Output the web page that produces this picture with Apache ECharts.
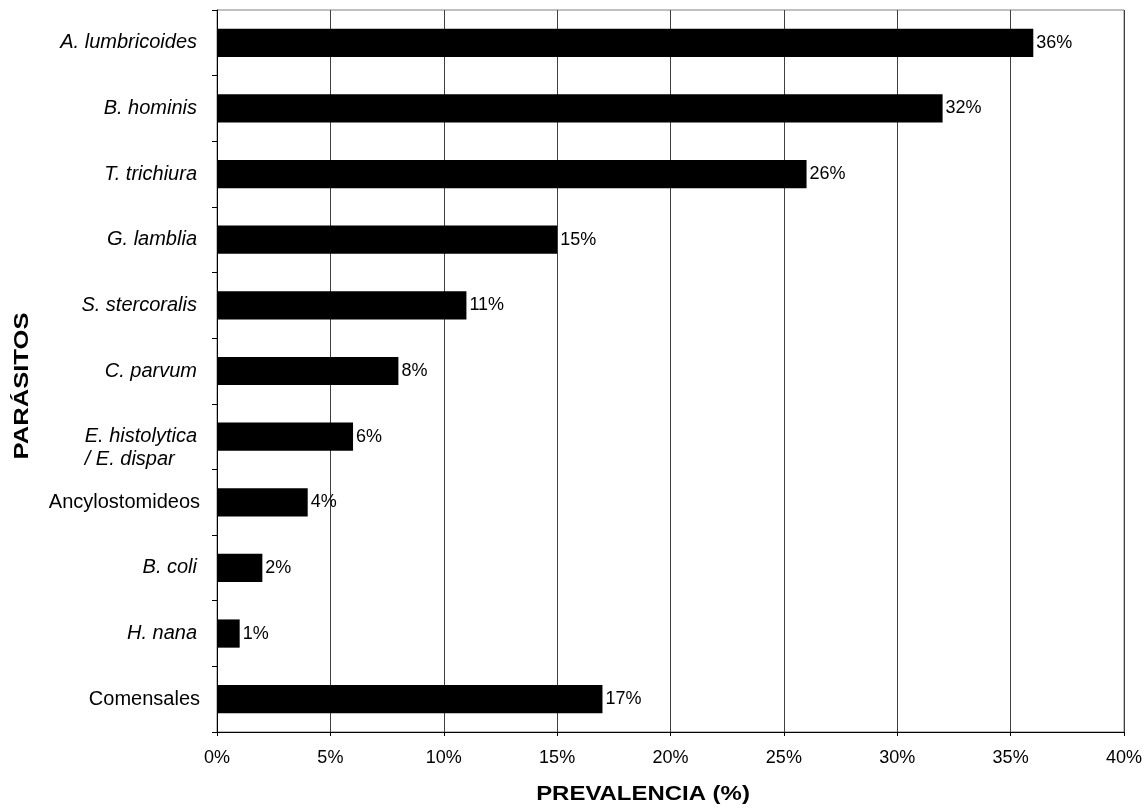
<!DOCTYPE html>
<html>
<head>
<meta charset="utf-8">
<script src="https://cdn.jsdelivr.net/npm/echarts@6/dist/echarts.min.js"></script>
<style>
  html, body { margin: 0; padding: 0; background: #fff; }
  #chart { width: 1148px; height: 809px; }
</style>
</head>
<body>
<div id="chart"></div>
<script>
// Parasite names (top to bottom) and prevalence in percent
const categories = [
  'A. lumbricoides', 'B. hominis', 'T. trichiura', 'G. lamblia', 'S. stercoralis',
  'C. parvum', 'E. histolytica\n/ E. dispar', 'Ancylostomideos', 'B. coli', 'H. nana', 'Comensales'
];
const prevalence = [36, 32, 26, 15, 11, 8, 6, 4, 2, 1, 17];
// Group names are written upright; species names in italics
const uprightNames = ['Ancylostomideos', 'Comensales'];
const xTicks = [0, 5, 10, 15, 20, 25, 30, 35, 40];

const FONT = 'Liberation Sans, Arial, sans-serif';
const chart = echarts.init(document.getElementById('chart'));

function categoryLabel(v) {
  if (uprightNames.includes(v)) return '{n|' + v + '}';
  const lines = v.split('\n');
  if (lines.length === 1) return '{i|' + v + '}';
  // a two-line name keeps its first line level with the bar and
  // hangs the second line below it, flush left with the first
  return '{i| }\n{i|' + lines[0] + '}\n' + lines.slice(1).map(s => '{il|' + s + '}').join('\n');
}

chart.setOption({
  animation: false,
  backgroundColor: '#fff',
  grid: {
    left: 217, right: 24, top: 10, bottom: 77,
    show: true, borderColor: '#808080', borderWidth: 1
  },
  xAxis: {
    type: 'value',
    min: xTicks[0],
    max: xTicks[xTicks.length - 1],
    interval: 5,
    axisLine: { show: true, lineStyle: { color: '#000', width: 1 } },
    axisTick: { show: true, length: 4, lineStyle: { color: '#000' } },
    axisLabel: {
      formatter: v => v + '%', fontFamily: FONT, fontSize: 18, color: '#000', margin: 17
    },
    splitLine: { show: true, lineStyle: { color: '#404040', width: 1 } }
  },
  yAxis: {
    type: 'category',
    data: categories,
    inverse: true,
    axisLine: { show: true, onZero: false, lineStyle: { color: '#000', width: 1 } },
    axisTick: { show: true, length: 5, lineStyle: { color: '#000' } },
    axisLabel: {
      margin: 20,
      fontFamily: FONT,
      fontSize: 20,
      color: '#000',
      lineHeight: 23,
      align: 'right',
      formatter: categoryLabel,
      rich: {
        i: { fontStyle: 'italic', fontFamily: FONT, fontSize: 20, color: '#000', lineHeight: 23 },
        il: { fontStyle: 'italic', fontFamily: FONT, fontSize: 20, color: '#000', lineHeight: 23, align: 'left' },
        n: { fontFamily: FONT, fontSize: 20, color: '#000', lineHeight: 23, padding: [0, -3, 0, 0] }
      }
    },
    splitLine: { show: false }
  },
  series: [{
    type: 'bar',
    data: prevalence,
    barCategoryGap: '57%',
    itemStyle: { color: '#000' },
    label: {
      show: true,
      position: 'right',
      distance: 3,
      formatter: p => p.value + '%',
      fontFamily: FONT,
      fontSize: 18,
      color: '#000'
    }
  }],
  graphic: [
    {
      type: 'text',
      x: 643, y: 794,
      scaleX: 1.14,
      style: {
        text: 'PREVALENCIA (%)', font: 'bold 21px ' + FONT, fill: '#000',
        align: 'center', verticalAlign: 'middle'
      }
    },
    {
      type: 'text',
      x: 22, y: 386,
      rotation: Math.PI / 2,
      scaleX: 1.22,
      style: {
        text: 'PARÁSITOS', font: 'bold 21px ' + FONT, fill: '#000',
        align: 'center', verticalAlign: 'middle'
      }
    }
  ]
});
</script>
</body>
</html>
